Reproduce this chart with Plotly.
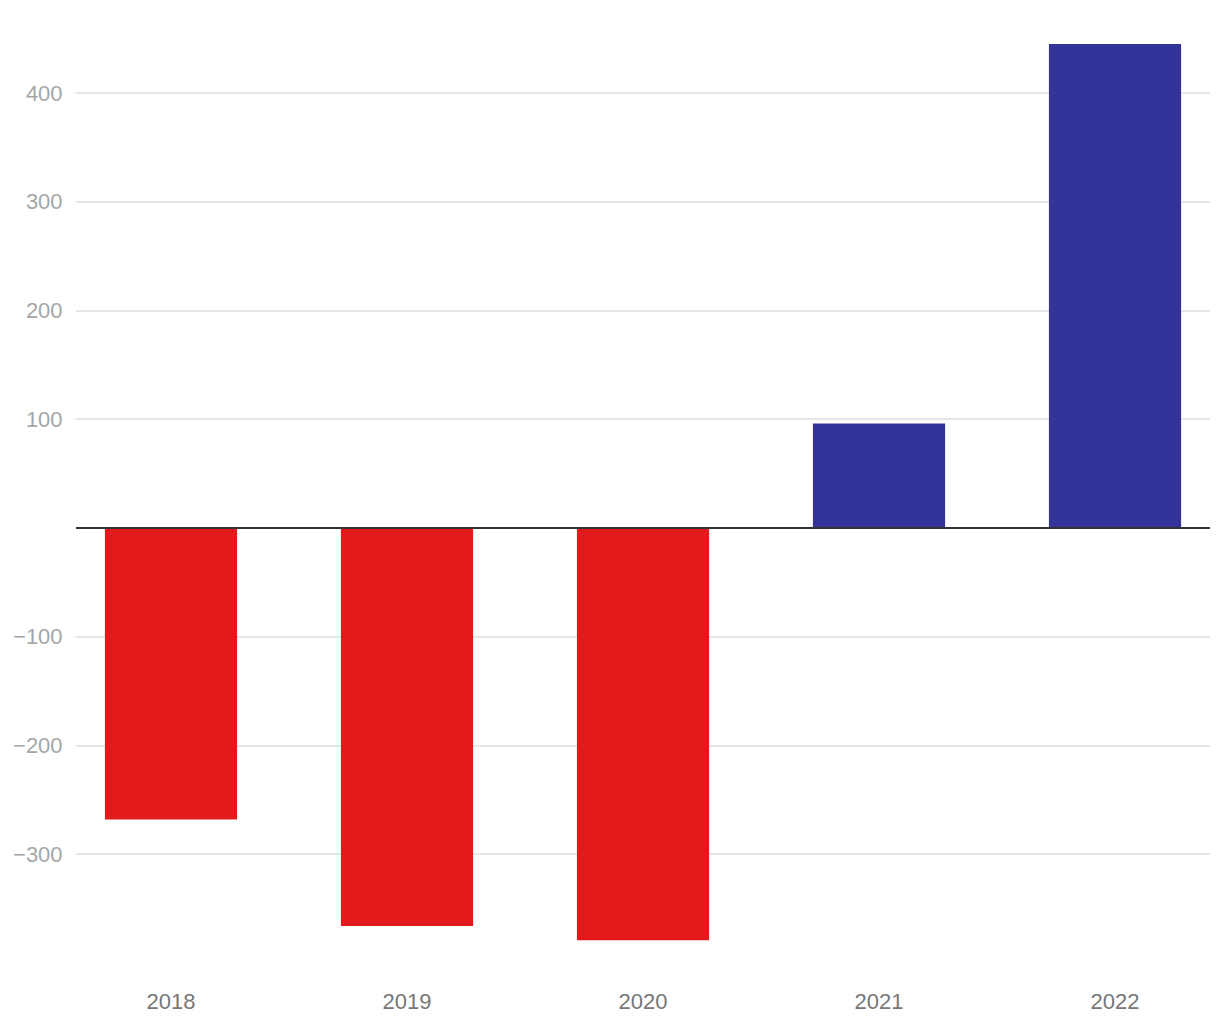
import plotly.graph_objects as go

years = ["2018", "2019", "2020", "2021", "2022"]
values = [-268, -366, -379, 96, 445]
neg_color = "#E31A1C"
pos_color = "#333399"
y_ticks = [-300, -200, -100, 100, 200, 300, 400]

colors = [neg_color if v < 0 else pos_color for v in values]

fig = go.Figure()
fig.add_trace(go.Bar(
    x=years, y=values, marker=dict(color=colors, line=dict(width=0)),
    width=0.56, hoverinfo="x+y",
))

fig.add_shape(type="line", xref="paper", yref="y", x0=0, x1=1, y0=0, y1=0,
              line=dict(color="#333333", width=2), layer="above")

fig.update_layout(
    width=1220, height=1020,
    margin=dict(l=76, r=10, t=6, b=57),
    paper_bgcolor="white", plot_bgcolor="white",
    font=dict(family="Liberation Sans, Arial, Helvetica, sans-serif", size=22),
    showlegend=False,
    bargap=0.44,
)
fig.update_xaxes(
    type="category", range=[-0.4025, 4.4025],
    showgrid=False, showline=False, zeroline=False,
    ticks="outside", ticklen=19, tickcolor="rgba(0,0,0,0)",
    tickfont=dict(color="#777777", size=22),
)
fig.update_yaxes(
    range=[-400, 480], tickvals=y_ticks,
    showgrid=True, gridcolor="#e6e6e6", gridwidth=2,
    zeroline=False, showline=False,
    ticks="outside", ticklen=8, tickcolor="rgba(0,0,0,0)",
    tickfont=dict(color="#a6a6a6", size=22),
)

fig.write_html("out.html")
